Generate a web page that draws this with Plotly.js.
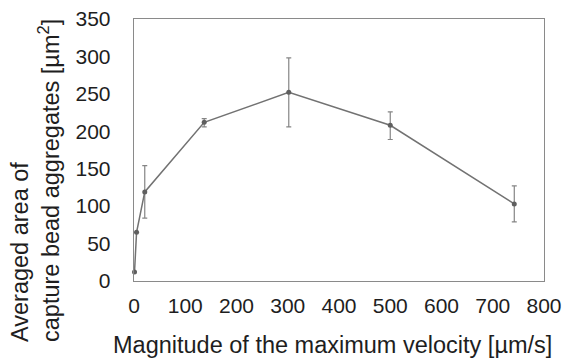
<!DOCTYPE html>
<html>
<head>
<meta charset="utf-8">
<script src="https://cdn.plot.ly/plotly-3.0.1.min.js"></script>
<style>html,body{margin:0;padding:0;background:#fff;}#chart{width:563px;height:360px;}</style>
</head>
<body>
<div id="chart"></div>
<script>
// Maximum flow velocity [µm/s] and averaged aggregate area [µm²]
const velocity = [1, 5, 21, 137, 302, 500, 742];
const meanArea = [12, 65, 119, 212, 252, 208, 103];
const errPlus  = [0, 0, 35, 5, 46, 18, 24];
const errMinus = [0, 0, 35, 6, 46, 19, 24];

const xTicks = [0, 100, 200, 300, 400, 500, 600, 700, 800];
const yTicks = [0, 50, 100, 150, 200, 250, 300, 350];

const xTitle = 'Magnitude of the maximum velocity [µm/s]';
const yTitle = 'Averaged area of<br>capture bead aggregates [µm<sup>2</sup>]';

const trace = {
  x: velocity,
  y: meanArea,
  type: 'scatter',
  mode: 'lines+markers',
  cliponaxis: false,
  line: {color: '#727272', width: 1.5},
  marker: {color: '#5f5f5f', size: 5},
  error_y: {
    type: 'data', symmetric: false,
    array: errPlus, arrayminus: errMinus,
    color: '#858585', thickness: 1.2, width: 2.5
  },
  hoverinfo: 'skip'
};

const family = 'Liberation Sans, Arial, sans-serif';
const tickFont = {family: family, size: 21, color: '#1e1e1e'};
const titleFont = {family: family, size: 23.5, color: '#1e1e1e'};

// plot area in pixels: x 134..544, y 19..281
const L = 134, R = 19, T = 19, B = 79;
const plotW = 563 - L - R, plotH = 360 - T - B;

const layout = {
  width: 563, height: 360,
  margin: {l: L, r: R, t: T, b: B},
  paper_bgcolor: '#fff', plot_bgcolor: '#fff',
  showlegend: false,
  xaxis: {
    range: [0, 800], tickvals: xTicks, ticktext: xTicks.map(String),
    showgrid: false, zeroline: false, ticks: '',
    showline: true, mirror: true, linecolor: '#8a8a8a', linewidth: 1.3,
    tickfont: tickFont, ticklabelstandoff: 5
  },
  yaxis: {
    range: [0, 350], tickvals: yTicks, ticktext: yTicks.map(String),
    showgrid: false, zeroline: false, ticks: '',
    showline: true, mirror: true, linecolor: '#8a8a8a', linewidth: 1.3,
    tickfont: tickFont, ticklabelstandoff: 18
  },
  annotations: [{
    text: yTitle, font: titleFont, textangle: -90, align: 'left',
    xref: 'paper', yref: 'paper',
    x: (35 - L) / plotW, y: (360 - B - 181) / plotH,
    xanchor: 'center', yanchor: 'middle', showarrow: false
  }, {
    text: xTitle, font: titleFont,
    xref: 'paper', yref: 'paper',
    x: (332 - L) / plotW, y: (360 - B - 345) / plotH,
    xanchor: 'center', yanchor: 'middle', showarrow: false
  }]
};

Plotly.newPlot('chart', [trace], layout, {staticPlot: true, displayModeBar: false});
</script>
</body>
</html>
